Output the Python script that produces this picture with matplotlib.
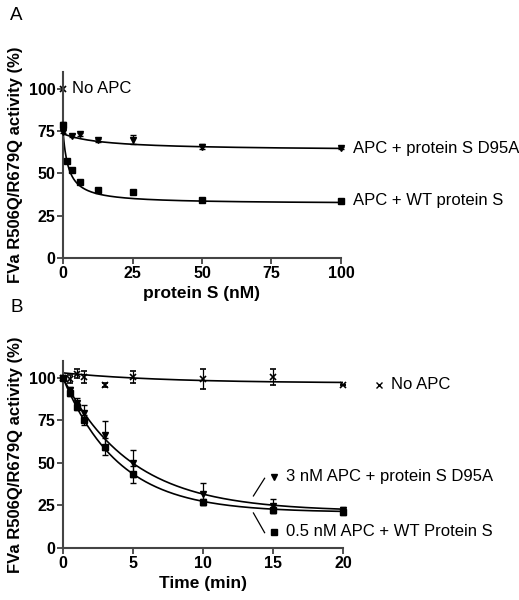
import numpy as np
import matplotlib.pyplot as plt

plt.rcParams['font.family'] = ['Liberation Sans', 'DejaVu Sans']

# Panel A: activity vs protein S concentration
ps_wt = [0, 1.5625, 3.125, 6.25, 12.5, 25, 50, 100]
act_wt = [78.5, 57.4, 52.0, 45.0, 40.0, 38.9, 34.2, 33.8]
err_wt = [2.0, 1.0, 1.0, 1.0, 1.0, 1.0, 1.0, 1.0]

ps_d95a = [0, 3.125, 6.25, 12.5, 25, 50, 100]
act_d95a = [74.8, 72.3, 73.2, 69.5, 70.0, 65.8, 65.0]
err_d95a = [1.0, 1.0, 1.0, 1.0, 2.5, 1.5, 0.8]

# hyperbolic fit parameters (y0 - span * x / (K + x))
fit_wt_a = (75.0, 43.0, 2.0)
fit_d95a_a = (73.5, 10.0, 15.0)

# Panel B: time course
t_noapc = [0, 0.5, 1, 1.5, 3, 5, 10, 15, 20]
act_noapc = [100, 99.5, 102.5, 100.5, 95.8, 100.6, 99.3, 100.5, 95.9]
err_noapc = [0, 2.5, 2.5, 3.5, 1.2, 3.5, 5.8, 4.5, 0]

t_ab = [0, 0.5, 1, 1.5, 3, 5, 10, 15, 20]
act_wt_b = [100, 91.0, 83.0, 75.3, 59.6, 43.5, 27.0, 22.2, 21.0]
err_wt_b = [0, 1.5, 2.0, 3.0, 5.0, 5.0, 1.8, 1.5, 1.5]
act_d95a_b = [100, 93.0, 85.0, 79.5, 66.3, 49.8, 31.8, 24.6, 22.5]
err_d95a_b = [0, 1.5, 3.0, 4.5, 8.5, 7.8, 6.3, 4.0, 1.5]

# one-phase decay fits (plateau, span, k)
fit_noapc = (97.0, 6.0, 0.139)
fit_wt_b = (21.0, 79.0, 0.251)
fit_d95a_b = (21.5, 78.5, 0.204)


def style_axes(ax, xmax, xticks):
    for s in ["top", "right"]:
        ax.spines[s].set_visible(False)
    for s in ["left", "bottom"]:
        ax.spines[s].set_linewidth(1.5)
        ax.spines[s].set_color("#444444")
    ax.spines["bottom"].set_bounds(0, xmax)
    ax.set_xlim(0, xmax)
    ax.set_ylim(0, 110)
    ax.set_xticks(xticks)
    ax.set_yticks([0, 25, 50, 75, 100])
    ax.tick_params(direction="out", length=4, width=1.3, color="#444444",
                   labelsize=11.5, pad=1.5)
    for lab in ax.get_xticklabels() + ax.get_yticklabels():
        lab.set_fontweight("bold")


fig = plt.figure(figsize=(5.19, 6.0), dpi=100)

# ---------- panel A ----------
axA = fig.add_axes([0.1214, 0.57, 0.5356, 0.31])
style_axes(axA, 100, [0, 25, 50, 75, 100])

xs = np.linspace(0, 100, 400)
y0, span, K = fit_wt_a
axA.plot(xs, y0 - span * xs / (K + xs), color="black", lw=1.2)
y0, span, K = fit_d95a_a
axA.plot(xs, y0 - span * xs / (K + xs), color="black", lw=1.2)

axA.errorbar(ps_wt, act_wt, yerr=err_wt, fmt="s", color="black", ms=5,
             capsize=2.5, elinewidth=0.9, clip_on=False, zorder=5)
axA.errorbar(ps_d95a, act_d95a, yerr=err_d95a, fmt="v", color="black", ms=5,
             capsize=2.5, elinewidth=0.9, clip_on=False, zorder=5)
axA.plot([0], [100], marker="x", color="black", ms=5, mew=1.2, clip_on=False)

axA.text(3.3, 100, "No APC", fontsize=12, va="center", ha="left")
axA.text(104.5, act_d95a[-1], "APC + protein S D95A", fontsize=12,
         va="center", ha="left", clip_on=False)
axA.text(104.5, act_wt[-1], "APC + WT protein S", fontsize=12,
         va="center", ha="left", clip_on=False)

axA.set_xlabel("protein S (nM)", fontsize=12.5, fontweight="bold", labelpad=4)
axA.set_ylabel("FVa R506Q/R679Q activity (%)", fontsize=12,
               fontweight="bold", labelpad=4)
fig.text(0.02, 0.975, "A", fontsize=13.5, va="center")

# ---------- panel B ----------
axB = fig.add_axes([0.1214, 0.0867, 0.5395, 0.3117])
style_axes(axB, 20, [0, 5, 10, 15, 20])

ts = np.linspace(0, 20, 400)
for p, s, k in (fit_noapc, fit_wt_b, fit_d95a_b):
    axB.plot(ts, p + s * np.exp(-k * ts), color="black", lw=1.2)

axB.errorbar(t_noapc, act_noapc, yerr=err_noapc, fmt="x", color="black",
             ms=5, mew=1.2, capsize=2.5, elinewidth=0.9, clip_on=False,
             zorder=5)
axB.errorbar(t_ab, act_wt_b, yerr=err_wt_b, fmt="s", color="black", ms=5,
             capsize=2.5, elinewidth=0.9, clip_on=False, zorder=5)
axB.errorbar(t_ab, act_d95a_b, yerr=err_d95a_b, fmt="v", color="black",
             ms=5, capsize=2.5, elinewidth=0.9, clip_on=False, zorder=5)

# legend-like labels
axB.plot([22.6], [act_noapc[-1]], marker="x", color="black", ms=4.5,
         mew=1.0, clip_on=False)
axB.text(23.4, act_noapc[-1], "No APC", fontsize=12, va="center",
         ha="left", clip_on=False)
axB.plot([15.1], [41.8], marker="v", color="black", ms=4.5, clip_on=False)
axB.text(15.9, 41.8, "3 nM APC + protein S D95A", fontsize=12,
         va="center", ha="left", clip_on=False)
axB.plot([15.1], [9.4], marker="s", color="black", ms=4.5, clip_on=False)
axB.text(15.9, 9.4, "0.5 nM APC + WT Protein S", fontsize=12,
         va="center", ha="left", clip_on=False)
axB.plot([13.6, 14.4], [30.6, 41.0], color="black", lw=0.9)
axB.plot([13.6, 14.4], [20.6, 9.0], color="black", lw=0.9)

axB.set_xlabel("Time (min)", fontsize=12.5, fontweight="bold", labelpad=4)
axB.set_ylabel("FVa R506Q/R679Q activity (%)", fontsize=12,
               fontweight="bold", labelpad=4)
fig.text(0.02, 0.488, "B", fontsize=13.5, va="center")

fig.savefig("out.png", dpi=100)
